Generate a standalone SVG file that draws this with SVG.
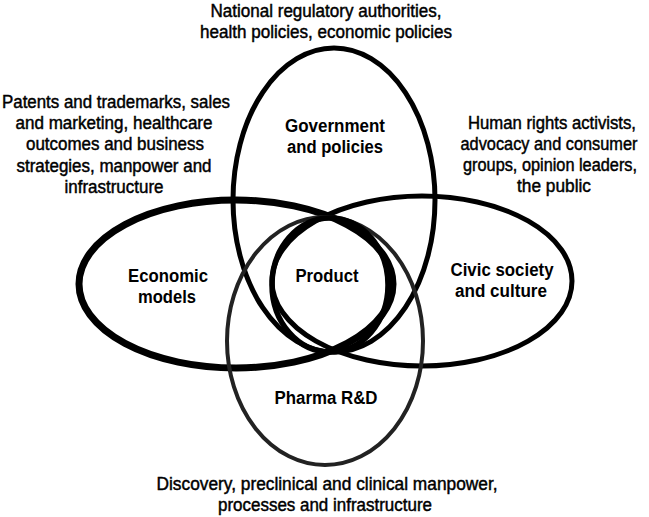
<svg xmlns="http://www.w3.org/2000/svg" width="649" height="517" viewBox="0 0 649 517">
<style>
.ring{fill:none;stroke:#000;stroke-width:5}
.desc{font-family:"Liberation Sans",Arial,sans-serif;font-size:17.5px;fill:#000;stroke:#000;stroke-width:0.45;text-anchor:middle}
.lbl{font-family:"Liberation Sans",Arial,sans-serif;font-size:18px;font-weight:bold;fill:#000;text-anchor:middle}
</style>
<rect width="649" height="517" fill="#fff"/>
<g id="connectors"/>
<g id="economic">
<ellipse class="ring" cx="236" cy="284" rx="157" ry="84" style="stroke-width:7"/>
<text class="lbl" x="168" y="282" textLength="80" lengthAdjust="spacingAndGlyphs">Economic</text>
<text class="lbl" x="167" y="303" textLength="58" lengthAdjust="spacingAndGlyphs">models</text>
<text class="desc" x="116" y="108" textLength="228" lengthAdjust="spacingAndGlyphs">Patents and trademarks, sales</text>
<text class="desc" x="114" y="129" textLength="197" lengthAdjust="spacingAndGlyphs">and marketing, healthcare</text>
<text class="desc" x="115" y="150" textLength="178" lengthAdjust="spacingAndGlyphs">outcomes and business</text>
<text class="desc" x="114" y="172" textLength="195" lengthAdjust="spacingAndGlyphs">strategies, manpower and</text>
<text class="desc" x="114" y="193" textLength="99" lengthAdjust="spacingAndGlyphs">infrastructure</text>
</g>
<g id="civic">
<ellipse class="ring" cx="422" cy="281" rx="150" ry="85"/>
<text class="lbl" x="502" y="276" textLength="103" lengthAdjust="spacingAndGlyphs">Civic society</text>
<text class="lbl" x="501" y="297" textLength="92" lengthAdjust="spacingAndGlyphs">and culture</text>
<text class="desc" x="552" y="129" textLength="168" lengthAdjust="spacingAndGlyphs">Human rights activists,</text>
<text class="desc" x="549" y="150" textLength="177" lengthAdjust="spacingAndGlyphs">advocacy and consumer</text>
<text class="desc" x="550" y="171" textLength="174" lengthAdjust="spacingAndGlyphs">groups, opinion leaders,</text>
<text class="desc" x="554" y="192" textLength="74" lengthAdjust="spacingAndGlyphs">the public</text>
</g>
<g id="government">
<ellipse class="ring" cx="334" cy="200" rx="101" ry="152"/>
<text class="lbl" x="335" y="132" textLength="100" lengthAdjust="spacingAndGlyphs">Government</text>
<text class="lbl" x="335" y="153" textLength="96" lengthAdjust="spacingAndGlyphs">and policies</text>
<text class="desc" x="326" y="17" textLength="231" lengthAdjust="spacingAndGlyphs">National regulatory authorities,</text>
<text class="desc" x="326" y="38" textLength="252" lengthAdjust="spacingAndGlyphs">health policies, economic policies</text>
</g>
<g id="pharma">
<ellipse class="ring" cx="325" cy="341" rx="98" ry="124" style="stroke:#222;stroke-width:4"/>
<text class="lbl" x="326" y="404" textLength="103" lengthAdjust="spacingAndGlyphs">Pharma R&amp;D</text>
<text class="desc" x="327" y="490" textLength="341" lengthAdjust="spacingAndGlyphs">Discovery, preclinical and clinical manpower,</text>
<text class="desc" x="325" y="511" textLength="214" lengthAdjust="spacingAndGlyphs">processes and infrastructure</text>
</g>
<g id="product">
<ellipse class="ring" cx="330" cy="285" rx="58" ry="67" style="stroke-width:5.5"/>
<text class="lbl" x="327" y="282" textLength="63" lengthAdjust="spacingAndGlyphs">Product</text>
</g>
</svg>
